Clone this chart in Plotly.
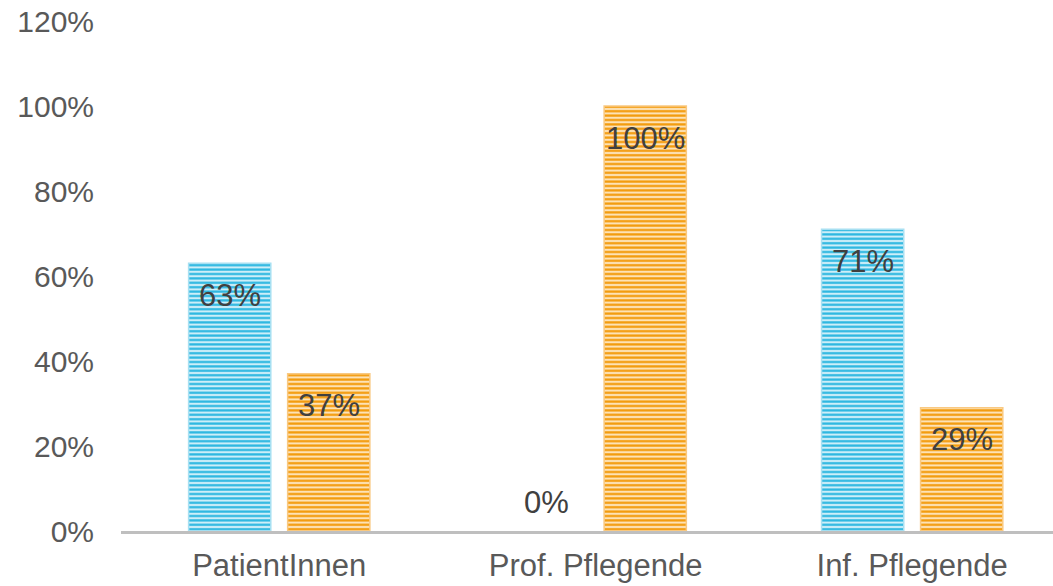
import plotly.graph_objects as go

categories = ["PatientInnen", "Prof. Pflegende", "Inf. Pflegende"]
series_a = [0.63, 0.00, 0.71]   # blue series
series_b = [0.37, 1.00, 0.29]   # orange series
y_ticks = [0, 0.2, 0.4, 0.6, 0.8, 1.0, 1.2]
y_tick_labels = ["0%", "20%", "40%", "60%", "80%", "100%", "120%"]

W, H = 1053, 586
ML, MR, MT, MB = 121, 0, 21, 55
x_range = [-0.5, 2.445]
px_per_unit = (W - ML - MR) / (x_range[1] - x_range[0])
bargap = 0.374
slot = (1 - bargap) / 2  # width of each series slot in category units
offset_px = slot / 2 * px_per_unit

FONT = "Arial, Liberation Sans, sans-serif"

def edge_widths(vals):
    return [1.5 if v > 0 else 0 for v in vals]

fig = go.Figure()
fig.add_trace(go.Bar(
    x=categories, y=series_a, name="A",
    marker=dict(color="#2AB6E0",
                pattern=dict(shape="-", fgcolor="#2AB6E0", bgcolor="#CDEEF8",
                             size=4.4, solidity=0.5, fillmode="replace"),
                line=dict(color="#A8E0F2", width=edge_widths(series_a))),
))
fig.add_trace(go.Bar(
    x=categories, y=series_b, name="B",
    marker=dict(color="#F39A0A",
                pattern=dict(shape="-", fgcolor="#F39A0A", bgcolor="#FDE2B6",
                             size=4.4, solidity=0.5, fillmode="replace"),
                line=dict(color="#F9C982", width=edge_widths(series_b))),
))

for vals, sign in ((series_a, -1), (series_b, 1)):
    for c, v in zip(categories, vals):
        txt = f"{round(v * 100)}%"
        fig.add_annotation(x=c, y=v, text=txt, showarrow=False,
                           xshift=sign * offset_px,
                           yshift=(-32 if v > 0.05 else 29), yanchor="middle",
                           font=dict(family=FONT, size=31, color="#404040"))

fig.update_layout(
    width=W, height=H,
    margin=dict(l=ML, r=MR, t=MT, b=MB, pad=0),
    paper_bgcolor="white", plot_bgcolor="white",
    barmode="group", bargap=bargap, bargroupgap=0.17,
    showlegend=False,
    font=dict(family=FONT, color="#595959", size=30),
)
fig.update_xaxes(range=x_range, showline=True, linecolor="#BFBFBF", linewidth=3,
                 showgrid=False, ticks="", tickfont=dict(size=31, color="#595959"),
                 ticklabelstandoff=5, automargin=False)
fig.update_yaxes(range=[0, 1.2], tickvals=y_ticks, ticktext=y_tick_labels,
                 showgrid=False, zeroline=False, showline=False, ticks="",
                 tickfont=dict(size=30, color="#595959"), ticklabelstandoff=26,
                 automargin=False)

fig.write_html("out.html")
